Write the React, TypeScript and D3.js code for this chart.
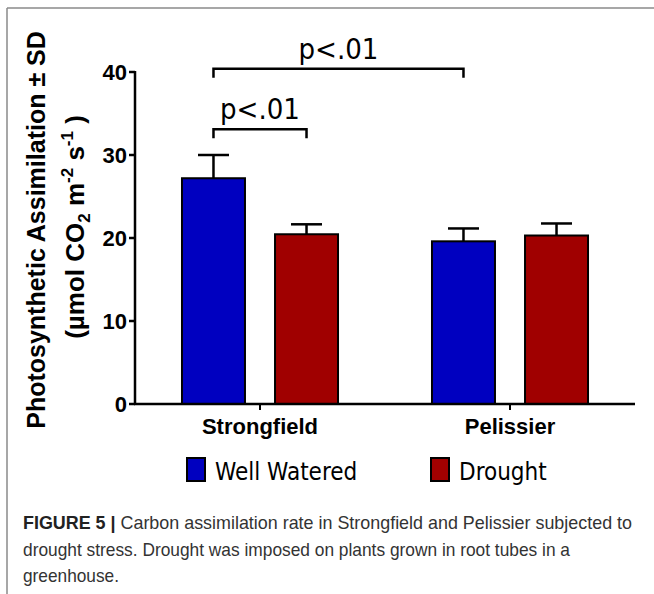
import React from 'react';
import * as d3 from 'd3';

const cultivars = ['Strongfield', 'Pelissier'];
const treatments = ['Well Watered', 'Drought'];
const colors = ['#0000c0', '#a00000'];
// mean and SD per cultivar, in treatment order
const wellWatered = [27.2, 19.6];
const wellWateredSd = [2.8, 1.55];
const drought = [20.45, 20.3];
const droughtSd = [1.2, 1.45];
const yTicks = [0, 10, 20, 30, 40];

// significance brackets: [cultivar, treatment] pairs, height in data units
const brackets = [
  { a: [0, 0], b: [0, 1], y: 33.1, label: 'p<.01' },
  { a: [0, 0], b: [1, 0], y: 40.4, label: 'p<.01' },
];

const captionLines = [
  'Carbon assimilation rate in Strongfield and Pelissier subjected to',
  'drought stress. Drought was imposed on plants grown in root tubes in a',
  'greenhouse.',
];
// rendered width of each caption line (px)
const captionWidths = [609, 547, 96];

const W = 654;
const H = 594;

const App: React.FC = () => {
  const y = d3.scaleLinear().domain([0, 40]).range([404, 72]);
  const x0 = d3.scaleBand<string>().domain(cultivars).range([135, 635]);
  const x1 = d3.scaleBand<string>()
    .domain(treatments)
    .range([0, x0.bandwidth()])
    .paddingInner(0.323)
    .paddingOuter(0.505);

  const means = [wellWatered, drought];
  const sds = [wellWateredSd, droughtSd];
  const bars = cultivars.flatMap((c, ci) =>
    treatments.map((t, ti) => ({
      c, t, ti,
      v: means[ti][ci],
      sd: sds[ti][ci],
      x: (x0(c) || 0) + (x1(t) || 0),
    }))
  );
  const bw = x1.bandwidth();
  const center = (p: number[]) => (x0(cultivars[p[0]]) || 0) + (x1(treatments[p[1]]) || 0) + bw / 2;

  const boldFont = '"Liberation Sans", Arial, sans-serif';
  const tahoma = '"DejaVu Sans Condensed", "DejaVu Sans", sans-serif';

  return (
    <svg width={W} height={H} style={{ position: 'absolute', left: 0, top: 0, background: '#fff' }}>
      {/* frame */}
      <line x1={7} y1={8} x2={W} y2={8} stroke="#8a8a8a" strokeWidth={1.5} />
      <line x1={7} y1={8} x2={7} y2={H} stroke="#8a8a8a" strokeWidth={1.5} />

      {/* bars */}
      {bars.map((d, i) => (
        <g key={i}>
          <line x1={d.x + bw / 2} x2={d.x + bw / 2} y1={y(d.v)} y2={y(d.v + d.sd)} stroke="#000" strokeWidth={2.5} />
          <line x1={d.x + bw / 2 - 15.5} x2={d.x + bw / 2 + 15.5} y1={y(d.v + d.sd)} y2={y(d.v + d.sd)} stroke="#000" strokeWidth={2.5} />
          <rect x={d.x} y={y(d.v)} width={bw} height={y(0) - y(d.v)} fill={colors[d.ti]} stroke="#000" strokeWidth={2} />
        </g>
      ))}

      {/* y axis */}
      <line x1={135} x2={135} y1={y(40) - 1} y2={y(0)} stroke="#000" strokeWidth={2.5} />
      {yTicks.map(t => (
        <g key={t}>
          <line x1={129} x2={135} y1={y(t)} y2={y(t)} stroke="#000" strokeWidth={2.5} />
          <text x={127} y={y(t) + 8} textAnchor="end" fontFamily={boldFont} fontWeight="bold" fontSize={22}>{t}</text>
        </g>
      ))}

      {/* x axis */}
      <line x1={134} x2={635} y1={y(0)} y2={y(0)} stroke="#000" strokeWidth={2.5} />
      {cultivars.map(c => {
        const cx = (x0(c) || 0) + x0.bandwidth() / 2;
        return (
          <g key={c}>
            <line x1={cx} x2={cx} y1={y(0)} y2={y(0) + 6} stroke="#000" strokeWidth={2} />
            <text x={cx} y={434} textAnchor="middle" fontFamily={boldFont} fontWeight="bold" fontSize={22}>{c}</text>
          </g>
        );
      })}

      {/* y title */}
      <text transform="translate(45,230) rotate(-90)" textAnchor="middle" fontFamily={boldFont} fontWeight="bold" fontSize={25}>
        Photosynthetic Assimilation ± SD
      </text>
      <text transform="translate(84,227) rotate(-90)" textAnchor="middle" fontFamily={boldFont} fontWeight="bold" fontSize={26}>
        <tspan>(µmol CO</tspan>
        <tspan fontSize={17} dy={6}>2</tspan>
        <tspan dy={-6}> m</tspan>
        <tspan fontSize={17} dy={-11}>-2</tspan>
        <tspan dy={11}> s</tspan>
        <tspan fontSize={17} dy={-11}>-1</tspan>
        <tspan dy={11}> )</tspan>
      </text>

      {/* significance brackets */}
      {brackets.map((b, i) => {
        const xa = center(b.a);
        const xb = center(b.b);
        const yy = y(b.y);
        return (
          <g key={i}>
            <path d={`M${xa},${yy + 9}V${yy}H${xb}V${yy + 9}`} fill="none" stroke="#000" strokeWidth={2.5} />
            <text x={(xa + xb) / 2} y={yy - 10} textAnchor="middle" fontFamily={tahoma} fontSize={29}>{b.label}</text>
          </g>
        );
      })}

      {/* legend */}
      {treatments.map((t, i) => {
        const lx = [187, 431][i];
        return (
          <g key={t}>
            <rect x={lx} y={458} width={18} height={23} fill={colors[i]} stroke="#000" strokeWidth={2} />
            <text x={lx + 28} y={480} fontFamily={tahoma} fontSize={24}>{t}</text>
          </g>
        );
      })}

      {/* caption */}
      {captionLines.map((l, i) => (
        <text key={i} x={23} y={529 + i * 26.5} textLength={captionWidths[i]} lengthAdjust="spacingAndGlyphs"
          fontFamily={'"Liberation Sans", Arial, sans-serif'} fontSize={18.5} fill="#333">
          {i === 0 && <tspan fontWeight="bold" fill="#222">FIGURE 5 | </tspan>}
          {l}
        </text>
      ))}
    </svg>
  );
};

export default App;
